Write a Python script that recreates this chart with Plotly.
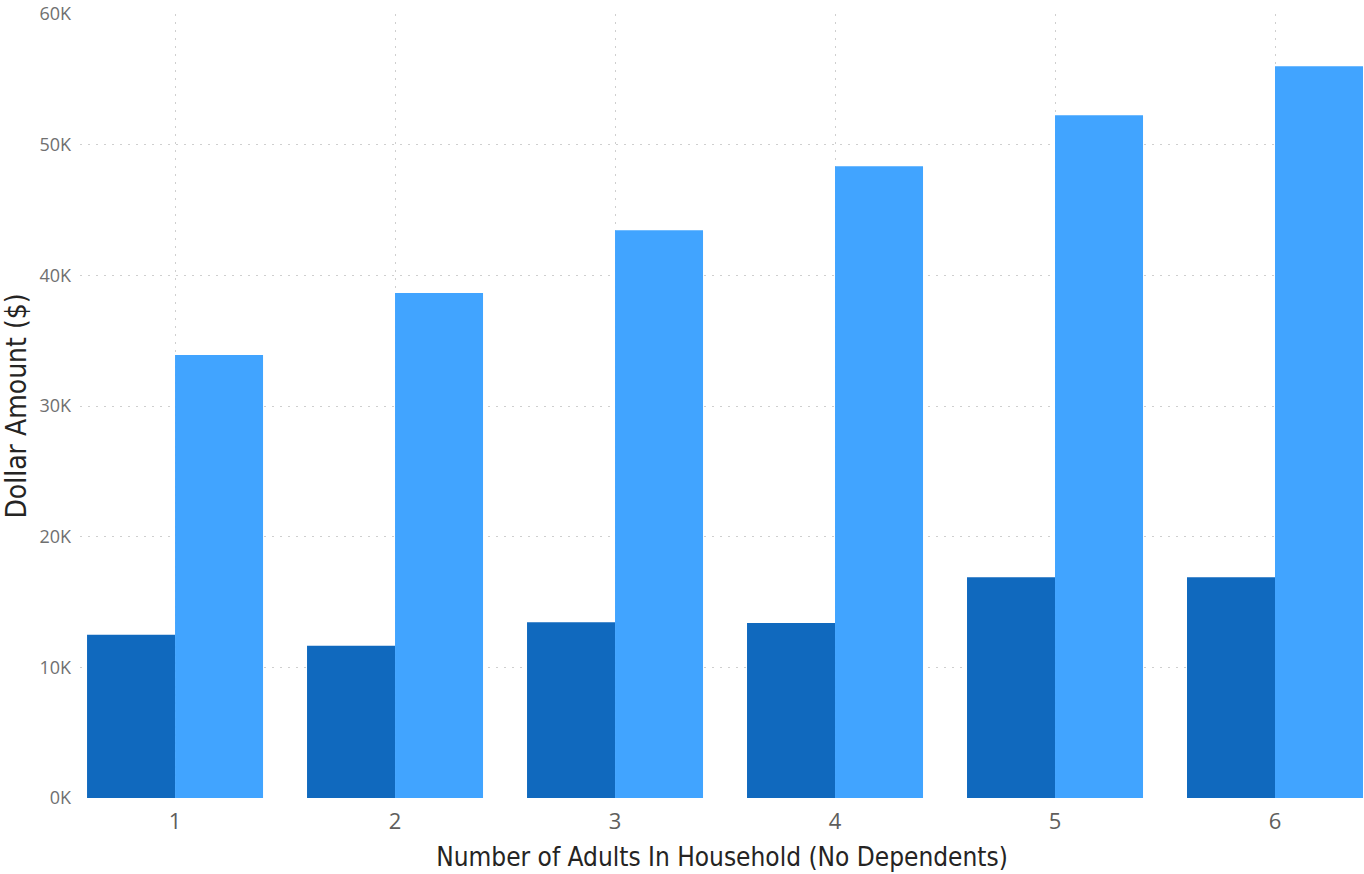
import plotly.graph_objects as go

categories = [1, 2, 3, 4, 5, 6]
tick_labels = ["1", "2", "3", "4", "5", "6"]
series_dark = [12500, 11650, 13450, 13400, 16900, 16900]
series_light = [33900, 38650, 43450, 48350, 52250, 56000]
y_ticks = [0, 10000, 20000, 30000, 40000, 50000, 60000]
y_tick_labels = ["0K", "10K", "20K", "30K", "40K", "50K", "60K"]

fig = go.Figure()
fig.add_trace(go.Bar(x=categories, y=series_dark, marker_color="#1069BE",
                     marker_line_width=0, name="Series 1"))
fig.add_trace(go.Bar(x=categories, y=series_light, marker_color="#41A4FF",
                     marker_line_width=0, name="Series 2"))

grid_dash = "2px,6px"
fig.update_layout(
    width=1364, height=874,
    margin=dict(l=80, r=0, t=14, b=76),
    plot_bgcolor="white", paper_bgcolor="white",
    barmode="group", bargap=0.2, bargroupgap=0,
    showlegend=False,
    font=dict(family="Open Sans, DejaVu Sans", color="#605E5C"),
)
fig.update_xaxes(
    range=[0.568, 6.4045], tickvals=categories, ticktext=tick_labels,
    showgrid=True, gridcolor="#CFCFCF", griddash=grid_dash, gridwidth=1,
    zeroline=False, showline=False, ticks="", ticklabelstandoff=8,
    tickfont=dict(size=22, color="#605E5C", family="Open Sans, DejaVu Sans"),
    title=dict(text="Number of Adults In Household (No Dependents)",
               font=dict(size=26, color="#252423", family="DejaVu Sans Condensed, Roboto"),
               standoff=13),
)
fig.update_yaxes(
    range=[0, 60000], tickvals=y_ticks, ticktext=y_tick_labels,
    showgrid=True, gridcolor="#CFCFCF", griddash=grid_dash, gridwidth=1,
    zeroline=False, showline=False, ticks="", ticklabelstandoff=8,
    tickfont=dict(size=18, color="#707070", family="Open Sans, DejaVu Sans"),
    title=dict(text="Dollar Amount ($)",
               font=dict(size=28, color="#252423", family="DejaVu Sans Condensed, Roboto"),
               standoff=5),
)

fig.write_html("out.html", config={"displayModeBar": False},
               post_script="document.body.style.margin='0';")
